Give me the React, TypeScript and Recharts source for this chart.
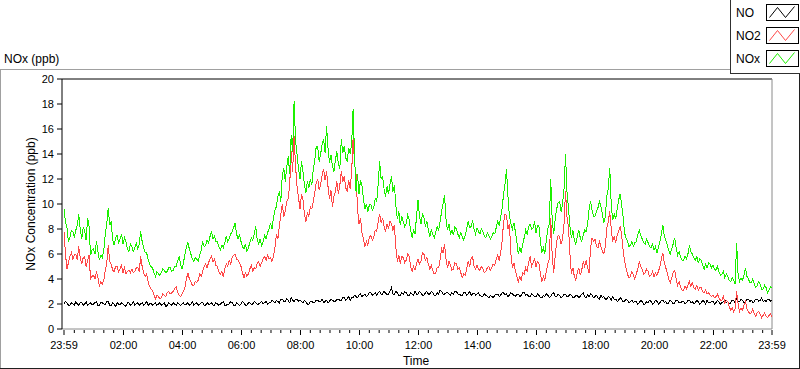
import { LineChart, Line, XAxis, YAxis, ReferenceLine } from 'recharts';

// readings every 3 minutes, starting at 23:59 of the previous day (20 per hour, one row per hour)
const NO = [
  2.0, 2.2, 2.1, 1.9, 1.9, 2.1, 2.0, 1.9, 2.2, 2.0, 1.9, 2.1, 2.1, 1.9, 2.0, 2.2, 1.9, 2.0, 2.1, 1.9,
  2.0, 2.1, 2.2, 1.9, 1.9, 2.1, 2.1, 2.0, 2.0, 2.2, 2.2, 1.9, 1.9, 2.1, 2.0, 1.8, 2.1, 2.0, 1.9, 2.1,
  2.0, 1.9, 1.8, 2.1, 2.1, 1.9, 2.0, 2.2, 1.9, 2.0, 2.1, 1.9, 2.0, 2.1, 1.9, 2.0, 2.2, 1.9, 2.0, 2.1,
  1.9, 2.0, 2.1, 1.9, 2.0, 2.1, 1.9, 2.0, 2.1, 1.8, 1.9, 2.1, 2.0, 1.9, 2.1, 2.0, 1.9, 2.1, 2.0, 1.9,
  2.0, 2.1, 1.9, 2.0, 2.1, 1.9, 2.0, 2.2, 1.9, 2.0, 2.1, 1.9, 2.0, 2.1, 2.1, 1.9, 1.9, 2.1, 2.0, 2.0,
  2.1, 1.9, 1.9, 2.1, 2.0, 1.9, 2.0, 2.1, 2.2, 1.9, 1.9, 2.0, 2.0, 2.2, 2.1, 1.9, 1.9, 2.1, 2.0, 1.9,
  2.0, 2.2, 2.1, 1.9, 1.9, 2.1, 2.1, 2.0, 2.0, 2.2, 2.1, 2.0, 2.0, 2.1, 2.2, 2.0, 2.1, 2.2, 2.0, 2.1,
  2.1, 2.3, 2.2, 2.1, 2.3, 2.2, 2.1, 2.4, 2.4, 2.2, 2.2, 2.4, 2.3, 2.1, 2.5, 2.3, 2.2, 2.4, 2.4, 2.2,
  2.3, 2.2, 2.1, 2.3, 2.2, 2.0, 2.0, 2.2, 2.2, 2.1, 2.1, 2.3, 2.3, 2.2, 2.2, 2.4, 2.1, 2.2, 2.3, 2.1,
  2.2, 2.4, 2.3, 2.2, 2.2, 2.4, 2.4, 2.3, 2.3, 2.5, 2.5, 2.3, 2.4, 2.6, 2.3, 2.5, 2.5, 2.7, 2.6, 2.5,
  2.7, 2.8, 2.6, 2.7, 2.8, 2.6, 2.7, 2.9, 2.9, 2.7, 2.8, 2.9, 2.7, 2.9, 3.0, 2.8, 2.8, 3.0, 2.9, 2.7,
  2.8, 3.0, 3.3, 2.8, 2.8, 3.0, 2.9, 2.7, 2.7, 2.9, 2.8, 3.0, 2.9, 2.7, 2.7, 2.9, 2.8, 2.7, 3.0, 2.8,
  2.8, 3.0, 2.9, 2.7, 2.7, 2.9, 3.0, 2.8, 2.8, 3.0, 2.9, 2.7, 2.7, 2.9, 2.8, 3.1, 3.0, 2.8, 2.8, 2.9,
  2.9, 2.8, 2.7, 2.9, 2.8, 3.0, 3.0, 2.8, 2.8, 2.7, 2.7, 2.9, 2.9, 2.7, 2.8, 3.0, 2.7, 2.8, 2.9, 2.7,
  2.8, 2.9, 2.7, 2.6, 2.6, 2.8, 2.7, 2.6, 2.5, 2.7, 2.6, 2.5, 2.7, 2.8, 2.8, 2.6, 2.7, 2.9, 2.9, 2.7,
  2.8, 2.6, 2.7, 2.9, 2.8, 2.7, 2.6, 2.8, 2.8, 2.6, 2.7, 2.9, 2.9, 2.7, 2.8, 2.6, 2.6, 2.8, 2.7, 2.6,
  2.6, 2.8, 2.7, 2.5, 2.5, 2.7, 2.6, 2.8, 2.7, 2.5, 2.6, 2.8, 2.9, 2.6, 2.6, 2.8, 2.7, 2.5, 2.6, 2.8,
  2.8, 2.6, 2.6, 2.8, 2.7, 2.5, 2.5, 2.7, 2.7, 2.5, 2.6, 2.8, 2.9, 2.6, 2.5, 2.7, 2.6, 2.8, 2.7, 2.5,
  2.6, 2.7, 2.5, 2.4, 2.7, 2.5, 2.6, 2.4, 2.4, 2.6, 2.5, 2.3, 2.6, 2.4, 2.4, 2.2, 2.3, 2.5, 2.4, 2.2,
  2.2, 2.4, 2.3, 2.1, 2.2, 2.3, 2.1, 2.2, 2.2, 2.0, 2.1, 2.3, 2.2, 2.0, 2.0, 2.2, 2.1, 2.3, 2.2, 2.0,
  2.1, 2.3, 2.2, 2.0, 2.1, 2.3, 2.3, 2.1, 2.2, 2.0, 2.1, 2.3, 2.2, 2.0, 2.1, 2.3, 2.3, 2.1, 2.1, 2.2,
  2.2, 2.0, 2.1, 2.3, 2.3, 2.1, 2.2, 2.0, 2.1, 2.3, 2.2, 2.0, 2.1, 2.3, 2.2, 2.0, 2.3, 2.1, 2.1, 2.2,
  2.2, 2.0, 2.1, 2.3, 2.2, 2.0, 2.1, 2.2, 2.3, 2.1, 2.2, 2.0, 2.1, 2.3, 2.3, 2.1, 2.5, 2.2, 2.2, 2.4,
  2.3, 2.1, 2.2, 2.4, 2.4, 2.2, 2.3, 2.1, 2.2, 2.4, 2.4, 2.2, 2.3, 2.5, 2.2, 2.3, 2.2, 2.4, 2.4, 2.2,
  2.3,
];

const NO2 = [
  7.8, 6.0, 4.8, 5.3, 5.8, 6.1, 5.6, 5.9, 6.0, 5.5, 6.6, 5.7, 5.2, 5.7, 5.8, 5.0, 5.5, 5.9, 4.0, 4.2,
  4.3, 4.0, 4.6, 4.1, 3.4, 3.8, 3.6, 3.9, 4.7, 5.3, 6.7, 5.4, 5.2, 4.7, 4.6, 5.0, 5.0, 4.6, 4.8, 5.1,
  4.5, 4.9, 4.4, 4.6, 4.7, 4.5, 4.8, 4.5, 4.6, 4.9, 4.9, 4.6, 5.8, 5.0, 4.5, 4.2, 4.4, 3.8, 3.4, 3.2,
  3.1, 2.7, 2.4, 2.7, 2.6, 2.4, 2.5, 2.8, 2.7, 2.6, 2.9, 3.0, 2.8, 2.9, 3.0, 3.2, 3.4, 3.0, 2.7, 2.6,
  2.8, 3.0, 3.3, 4.0, 4.5, 4.0, 3.8, 3.5, 3.5, 3.8, 3.7, 3.9, 4.4, 4.2, 4.6, 5.0, 5.2, 4.9, 5.3, 5.6,
  5.8, 5.4, 5.6, 5.1, 5.0, 4.6, 4.4, 4.6, 4.2, 4.8, 5.2, 5.0, 5.5, 5.2, 5.7, 5.9, 6.0, 5.6, 5.5, 5.3,
  5.0, 4.5, 4.1, 4.5, 4.2, 4.4, 4.8, 5.1, 4.6, 4.9, 4.8, 5.3, 5.4, 5.0, 5.3, 5.6, 5.8, 5.5, 5.9, 5.6,
  5.7, 5.4, 5.8, 6.5, 7.6, 7.2, 8.2, 9.2, 10.0, 9.0, 9.4, 10.2, 10.4, 11.5, 14.2, 12.6, 15.4, 13.0, 11.4, 10.5,
  9.6, 10.8, 10.4, 9.2, 8.6, 9.3, 9.0, 9.8, 9.6, 10.2, 10.9, 11.7, 12.0, 11.1, 11.6, 12.3, 12.8, 11.9, 12.6, 11.4,
  10.4, 11.1, 9.8, 10.6, 11.0, 11.8, 10.8, 11.5, 12.6, 11.8, 12.2, 11.3, 11.0, 11.9, 11.2, 12.5, 15.3, 13.2, 12.4, 9.6,
  8.4, 8.9, 7.7, 7.2, 6.6, 7.0, 6.7, 7.3, 7.5, 7.1, 7.3, 7.9, 7.8, 8.6, 9.2, 8.5, 8.9, 8.2, 7.8, 8.4,
  8.0, 8.6, 8.4, 7.9, 8.3, 6.5, 5.4, 5.9, 5.2, 5.8, 5.7, 5.3, 5.5, 6.0, 5.8, 5.0, 4.6, 5.0, 4.7, 5.2,
  5.6, 5.2, 5.4, 6.1, 6.0, 5.5, 5.7, 5.2, 4.8, 5.1, 4.7, 4.4, 4.5, 4.9, 4.9, 5.6, 6.4, 6.1, 6.8, 5.6,
  4.9, 5.4, 5.1, 4.7, 4.8, 5.3, 5.2, 4.8, 4.9, 4.5, 4.1, 4.4, 4.3, 4.8, 5.4, 5.0, 5.6, 5.8, 5.0, 4.8,
  5.1, 4.8, 4.7, 5.0, 4.8, 4.5, 4.6, 4.9, 5.0, 4.7, 4.9, 5.2, 5.1, 5.6, 5.9, 5.5, 6.0, 7.0, 8.5, 9.2,
  9.1, 8.0, 8.4, 6.0, 4.9, 5.3, 4.7, 4.2, 3.8, 4.2, 3.9, 4.5, 4.4, 4.9, 4.6, 5.3, 5.8, 5.0, 5.3, 5.6,
  5.0, 5.4, 5.2, 4.4, 3.8, 4.2, 3.9, 4.6, 5.2, 5.6, 8.9, 5.8, 4.5, 5.8, 7.0, 7.5, 7.4, 6.8, 7.2, 8.4,
  11.0, 9.0, 8.2, 6.0, 4.4, 4.9, 4.2, 3.9, 4.5, 4.9, 4.3, 4.7, 5.4, 5.0, 5.5, 4.9, 4.5, 6.5, 7.3, 7.0,
  7.2, 6.6, 6.5, 7.0, 6.6, 6.2, 6.0, 6.6, 8.1, 8.6, 9.4, 8.0, 7.0, 7.4, 6.9, 7.5, 7.8, 8.2, 7.6, 6.4,
  5.5, 4.9, 4.4, 4.1, 4.2, 4.6, 4.3, 4.0, 4.4, 4.8, 5.4, 5.0, 4.8, 4.4, 4.5, 4.8, 4.6, 4.2, 4.3, 4.6,
  4.2, 4.5, 4.3, 4.6, 5.0, 5.6, 6.1, 5.3, 4.9, 4.5, 4.0, 3.7, 4.1, 4.5, 4.7, 4.0, 3.5, 3.8, 3.4, 3.1,
  3.1, 3.4, 3.2, 3.5, 3.8, 3.4, 3.7, 3.3, 3.2, 3.5, 3.1, 3.3, 3.3, 3.0, 2.9, 3.1, 2.8, 2.9, 2.7, 2.6,
  2.7, 2.5, 2.6, 2.8, 2.5, 2.3, 2.3, 2.6, 2.1, 2.3, 2.2, 1.8, 1.5, 1.7, 1.4, 1.6, 3.0, 2.0, 1.4, 1.7,
  1.5, 1.9, 2.2, 1.6, 1.4, 1.2, 1.3, 1.6, 1.2, 1.0, 1.3, 1.4, 1.2, 0.9, 1.1, 1.3, 1.0, 0.9, 1.1, 1.2,
  1.0,
];

const NOX = [
  9.6, 8.6, 8.1, 7.0, 7.3, 7.9, 7.8, 7.4, 7.9, 8.3, 9.2, 8.0, 7.2, 8.1, 7.9, 7.1, 8.9, 8.2, 5.9, 6.3,
  6.4, 6.0, 7.0, 6.2, 5.5, 5.9, 5.7, 6.3, 7.6, 8.4, 9.7, 8.3, 8.6, 7.1, 6.7, 7.3, 7.5, 6.9, 7.2, 7.6,
  6.8, 7.3, 7.0, 6.4, 6.2, 6.8, 6.6, 6.2, 6.5, 6.9, 6.4, 6.8, 7.8, 7.0, 6.5, 6.1, 6.1, 5.6, 5.2, 5.0,
  4.9, 4.5, 4.2, 4.6, 4.4, 4.3, 4.5, 4.8, 4.7, 4.5, 4.6, 4.9, 4.9, 4.6, 4.7, 5.0, 5.0, 5.4, 5.8, 5.2,
  4.8, 5.3, 6.0, 6.6, 6.9, 6.4, 6.0, 5.6, 5.4, 5.7, 5.6, 5.4, 5.9, 6.3, 7.0, 6.6, 6.7, 7.1, 6.9, 7.4,
  7.8, 7.2, 7.4, 7.0, 7.0, 6.6, 6.3, 6.7, 6.5, 6.9, 7.4, 7.0, 7.2, 7.6, 7.8, 8.1, 8.5, 7.6, 7.2, 7.5,
  7.0, 6.6, 6.4, 6.8, 6.2, 6.5, 6.9, 7.3, 7.1, 7.6, 8.2, 7.1, 6.8, 7.2, 6.6, 7.0, 7.5, 7.2, 7.7, 8.0,
  8.5, 8.0, 8.9, 9.5, 9.8, 10.6, 11.0, 10.2, 12.3, 12.9, 11.8, 13.0, 13.8, 12.4, 15.5, 14.2, 18.2, 15.0, 14.0, 12.8,
  12.0, 13.4, 12.6, 11.5, 10.9, 11.8, 11.3, 12.0, 11.5, 12.8, 13.5, 14.6, 14.6, 13.4, 14.0, 14.8, 15.2, 14.1, 16.2, 14.5,
  13.3, 13.9, 13.0, 12.6, 13.5, 14.2, 13.2, 12.8, 15.2, 14.1, 14.6, 13.7, 13.4, 14.5, 14.0, 14.8, 17.6, 13.8, 11.0, 12.4,
  10.8, 11.9, 11.5, 10.4, 9.6, 10.0, 9.4, 9.9, 10.0, 9.5, 9.7, 10.4, 10.2, 11.6, 13.4, 12.0, 12.2, 11.2, 10.6, 11.4,
  10.8, 11.6, 12.2, 11.0, 11.5, 9.9, 8.8, 9.4, 8.3, 9.0, 8.6, 8.2, 8.4, 9.1, 8.8, 7.9, 7.3, 7.9, 7.6, 9.0,
  10.3, 9.0, 8.4, 9.2, 8.9, 8.2, 8.6, 7.9, 7.4, 7.9, 7.6, 7.3, 7.7, 8.2, 7.9, 8.6, 9.4, 10.0, 10.7, 8.8,
  7.9, 8.4, 7.6, 7.9, 7.5, 8.2, 8.0, 7.6, 7.3, 7.7, 7.4, 7.1, 7.5, 8.0, 8.6, 8.1, 8.2, 8.7, 8.0, 7.6,
  8.1, 7.8, 7.6, 8.0, 7.8, 7.4, 7.3, 7.7, 7.5, 7.2, 7.4, 7.7, 7.6, 8.1, 8.6, 8.3, 8.9, 9.6, 10.8, 11.6,
  12.8, 10.6, 9.0, 8.4, 8.0, 8.5, 7.8, 7.0, 6.0, 6.5, 6.1, 6.8, 7.3, 7.9, 7.6, 8.2, 8.4, 8.0, 8.1, 8.6,
  7.7, 8.3, 8.2, 7.0, 6.1, 6.5, 6.0, 7.1, 8.0, 8.4, 12.0, 8.6, 7.6, 8.8, 9.6, 10.1, 10.2, 9.4, 10.0, 11.2,
  14.0, 11.0, 9.7, 8.2, 7.3, 7.9, 7.1, 6.8, 7.4, 7.9, 7.3, 7.0, 7.5, 7.9, 7.8, 8.4, 9.6, 10.2, 9.5, 9.0,
  9.0, 9.4, 9.7, 10.2, 9.8, 9.2, 8.5, 9.0, 10.6, 11.2, 12.9, 10.0, 8.7, 9.2, 8.8, 9.6, 10.3, 10.8, 10.0, 9.0,
  7.7, 7.3, 7.0, 6.6, 6.7, 7.0, 6.6, 6.9, 7.0, 7.5, 7.9, 7.5, 7.2, 6.9, 6.8, 7.2, 6.9, 6.6, 6.5, 6.8,
  6.3, 6.6, 6.1, 6.5, 7.0, 7.6, 8.3, 7.4, 7.1, 6.7, 6.3, 6.0, 6.4, 6.8, 7.3, 6.5, 5.9, 6.2, 5.8, 5.5,
  5.5, 5.8, 5.6, 6.0, 6.7, 6.2, 6.0, 5.7, 5.5, 5.8, 5.3, 5.6, 5.5, 5.1, 4.8, 5.2, 4.9, 5.3, 5.2, 4.9,
  5.1, 4.8, 4.7, 5.0, 4.6, 4.3, 4.4, 4.6, 4.1, 4.4, 4.2, 3.9, 3.8, 4.1, 3.9, 3.6, 6.9, 4.4, 3.8, 4.1,
  3.9, 4.3, 4.9, 4.2, 4.0, 3.7, 3.7, 4.0, 3.6, 3.3, 3.5, 3.8, 3.6, 3.2, 3.2, 3.5, 3.3, 2.9, 3.1, 3.4,
  3.3,
];

const MAJOR_TICKS = [0, 2 + 1 / 60, 4 + 1 / 60, 6 + 1 / 60, 8 + 1 / 60, 10 + 1 / 60, 12 + 1 / 60,
  14 + 1 / 60, 16 + 1 / 60, 18 + 1 / 60, 20 + 1 / 60, 22 + 1 / 60, 24];
const MAJOR_LABELS = ['23:59', '02:00', '04:00', '06:00', '08:00', '10:00', '12:00',
  '14:00', '16:00', '18:00', '20:00', '22:00', '23:59'];
const Y_TICKS = [0, 2, 4, 6, 8, 10, 12, 14, 16, 18, 20];

const COLORS = { no: '#000000', no2: '#ff4848', nox: '#1cf000' };
const FONT = '"Liberation Sans", Arial, sans-serif';

const data = NO.map((v, i) => ({ t: i / 20, no: v, no2: NO2[i], nox: NOX[i] }));

// minor ticks every 20 minutes, skipping the ones that fall on a labelled tick
const minorTicks: number[] = [];
for (let k = 1; k < 72; k++) {
  if (k % 6 !== 0) minorTicks.push(1 / 60 + k / 3);
}
const allTicks = [...MAJOR_TICKS, ...minorTicks].sort((a, b) => a - b);

const TimeTick = (props: any) => {
  const { x, y, payload } = props;
  const idx = MAJOR_TICKS.findIndex(t => Math.abs(t - payload.value) < 1e-6);
  const major = idx >= 0;
  return (
    <g>
      <line x1={x} y1={y + 1} x2={x} y2={y + (major ? 6 : 4)} stroke="#000" />
      {major && (
        <text x={x} y={y + 20} textAnchor="middle" fontSize={11} fill="#000" fontFamily={FONT}>
          {MAJOR_LABELS[idx]}
        </text>
      )}
    </g>
  );
};

const Swatch = ({ y, color }: { y: number; color: string }) => (
  <g transform={`translate(766.5, ${y + 0.5})`}>
    <rect x={0} y={0} width={32} height={16} fill="#fff" stroke="#000" />
    <polyline points="3,13 11,3 19,13 28,2" fill="none" stroke={color} />
  </g>
);

export default function App() {
  return (
    <div style={{ position: 'absolute', left: 0, top: 0, width: 800, height: 369, background: '#fff', fontFamily: FONT }}>
      <LineChart width={800} height={369} data={data} margin={{ top: 79, right: 28, bottom: 10, left: 12 }}>
        <XAxis
          dataKey="t"
          type="number"
          domain={[-2 / 29.5, 24]}
          allowDataOverflow
          ticks={allTicks}
          interval={0}
          height={30}
          tickSize={0}
          tickMargin={0}
          tickLine={false}
          axisLine={{ stroke: '#8a8a8a' }}
          tick={<TimeTick />}
        />
        <YAxis
          type="number"
          domain={[0, 20]}
          ticks={Y_TICKS}
          interval={0}
          width={50}
          tickSize={5}
          tickMargin={3}
          axisLine={{ stroke: '#000' }}
          tickLine={{ stroke: '#000' }}
          tick={{ fill: '#000', fontSize: 11, fontFamily: FONT }}
        />
        <ReferenceLine y={20} stroke="#000" />
        <ReferenceLine x={24} stroke="#8a8a8a" />
        <Line dataKey="no" stroke={COLORS.no} strokeWidth={1} dot={false} isAnimationActive={false} shapeRendering="crispEdges" />
        <Line dataKey="no2" stroke={COLORS.no2} strokeWidth={1} dot={false} isAnimationActive={false} shapeRendering="crispEdges" />
        <Line dataKey="nox" stroke={COLORS.nox} strokeWidth={1} dot={false} isAnimationActive={false} shapeRendering="crispEdges" />
      </LineChart>
      <svg width={800} height={369} style={{ position: 'absolute', left: 0, top: 0, pointerEvents: 'none' }}>
        <line x1={0} y1={69.5} x2={730} y2={69.5} stroke="#a0a0a0" />
        <line x1={0.5} y1={69.5} x2={0.5} y2={368} stroke="#a0a0a0" />
        <line x1={0} y1={368.5} x2={800} y2={368.5} stroke="#202020" />
        <line x1={799.5} y1={73} x2={799.5} y2={369} stroke="#202020" />
        <line x1={730.5} y1={0} x2={730.5} y2={74} stroke="#303030" />
        <line x1={730} y1={73.5} x2={800} y2={73.5} stroke="#303030" />
        <text x={4} y={63} fontSize={12} fill="#000" fontFamily={FONT}>NOx (ppb)</text>
        <text x={31} y={204} fontSize={12} fill="#000" fontFamily={FONT} textAnchor="middle"
          dominantBaseline="central" transform="rotate(-90 31 204)">NOx Concentration (ppb)</text>
        <text x={416} y={365} fontSize={12} fill="#000" fontFamily={FONT} textAnchor="middle">Time</text>
        <text x={736} y={17} fontSize={12} fill="#000" fontFamily={FONT}>NO</text>
        <text x={736} y={40} fontSize={12} fill="#000" fontFamily={FONT}>NO2</text>
        <text x={736} y={63} fontSize={12} fill="#000" fontFamily={FONT}>NOx</text>
        <Swatch y={4} color={COLORS.no} />
        <Swatch y={27} color={COLORS.no2} />
        <Swatch y={50} color={COLORS.nox} />
      </svg>
    </div>
  );
}
